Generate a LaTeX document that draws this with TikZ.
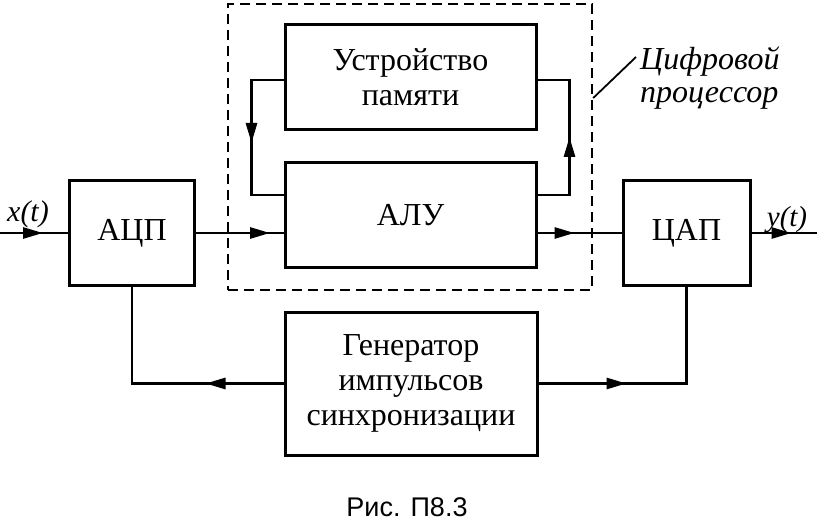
\documentclass[tikz,border=0pt]{standalone}
\usepackage{fontspec}
\setmainfont{Liberation Serif}
\newfontfamily\capfont{Liberation Sans}
\usetikzlibrary{arrows.meta,decorations.markings}

\begin{document}
\begin{tikzpicture}[x=1pt,y=-1pt,
        blk/.style={draw, rectangle, line width=3pt, inner sep=0pt, align=center,
            font=\fontsize{32}{35}\selectfont},
        wire/.style={line width=2.8pt},
        tipat/.style={postaction={decorate}, decoration={markings,
            mark=at position #1 with {\arrow{Triangle[length=20pt,width=11pt]}}}}]

        \useasboundingbox (0,0) rectangle (817,524);

        \node[draw, rectangle, line width=2.4pt, dash pattern=on 10pt off 6pt,
            minimum width=364pt, minimum height=286pt] (proc) at (410,147) {};
        \node[anchor=north west, align=left, inner sep=0pt,
            font=\itshape\fontsize{32}{33}\selectfont] (proclbl) at (640,47)
            {Цифровой\\процессор};
        \coordinate (lead) at (636,57);
        \path[draw,line width=1.8pt] ([yshift=49pt]proc.east) -- (lead);

        \node[blk, minimum width=125pt, minimum height=105pt] (adc) at (132,233) {АЦП};
        \node[blk, minimum width=251pt, minimum height=105pt] (mem) at (410.5,77.5)
            {Устройство\\памяти};
        \node[blk, minimum width=251pt, minimum height=104pt] (alu) at (410.5,215) {АЛУ};
        \node[blk, minimum width=127pt, minimum height=105pt] (dac) at (686.5,233) {ЦАП};
        \node[blk, minimum width=252pt, minimum height=143pt] (gen) at (411,383.5)
            {Генератор\\импульсов\\синхронизации};

        \coordinate (xin) at (0,233);
        \coordinate (yout) at (817,233);
        \node[font=\itshape\fontsize{30}{32}\selectfont] (xlbl) at (28,214) {x(t)};
        \node[font=\itshape\fontsize{29}{32}\selectfont] (ylbl) at (787,220) {y(t)};

        \path[draw,wire,tipat=43pt] (xin) -- (adc.west);
        \path[draw,wire,tipat=74pt] (adc.east) -- (adc.east -| alu.west);
        \path[draw,wire,tipat=37pt] (alu.east |- dac.west) -- (dac.west);
        \path[draw,wire,tipat=40pt] (dac.east) -- (yout);

        \path[draw,wire,tipat=95pt] ([yshift=-2.5pt]mem.west) -- ++(-32,0)
            |- ([yshift=20pt]alu.west);
        \path[draw,wire,tipat=90pt] ([yshift=20pt]alu.east) -- ++(32,0)
            |- ([yshift=-2.5pt]mem.east);

        \path[draw,wire,tipat=78pt] (gen.west) -| (adc.south);
        \path[draw,wire,tipat=88pt] (gen.east) -| (dac.south);

        \node[font=\capfont\fontsize{27}{30}\selectfont] (cap) at (407,507) {Рис. П8.3};
    \end{tikzpicture}
\end{document}
